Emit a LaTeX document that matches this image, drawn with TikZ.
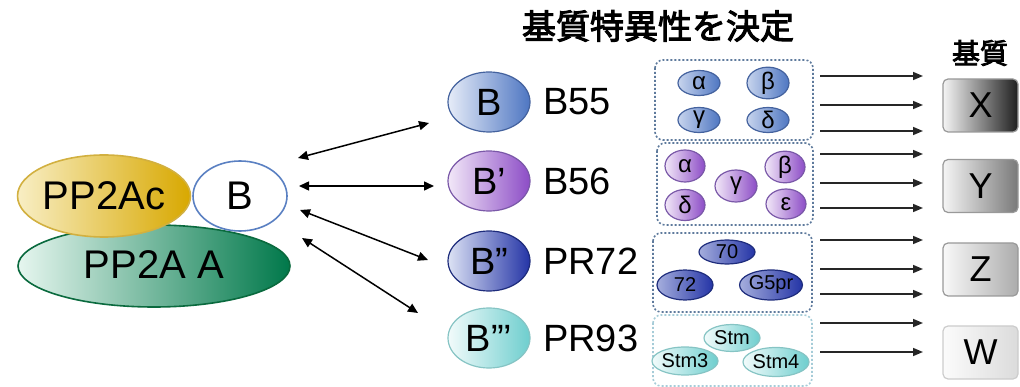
\documentclass[tikz,border=0pt]{standalone}
\usepackage{fontspec}
\setmainfont{Liberation Sans}
\newfontfamily\cjk{Noto Sans CJK JP}[FakeBold=3]
\usetikzlibrary{arrows.meta,shapes.geometric}
\newcommand\setfs[1]{\fontsize{#1}{#1}\selectfont}

\definecolor{goldL}{HTML}{F8EEC4}
\definecolor{goldR}{HTML}{D8A800}
\definecolor{goldB}{HTML}{D2B040}
\definecolor{grnL}{HTML}{E6F6EF}
\definecolor{grnR}{HTML}{00784A}
\definecolor{grnB}{HTML}{0A6A3E}
\definecolor{bcirc}{HTML}{5A80C2}
\definecolor{bluL}{HTML}{E6ECF8}
\definecolor{bluR}{HTML}{4E76C2}
\definecolor{bluB}{HTML}{44629E}
\definecolor{purL}{HTML}{F2E8F8}
\definecolor{purR}{HTML}{8C4CC6}
\definecolor{purB}{HTML}{7A58A8}
\definecolor{indL}{HTML}{DCE2F4}
\definecolor{indR}{HTML}{2434A6}
\definecolor{indB}{HTML}{1E2C7C}
\definecolor{tealL}{HTML}{F2FBFB}
\definecolor{tealR}{HTML}{6ECECE}
\definecolor{tealB}{HTML}{86C4C4}
\definecolor{dotB}{HTML}{5E7A9C}
\definecolor{dotT}{HTML}{A6CCD8}

\begin{document}
\begin{tikzpicture}[x=1pt,y=-1pt,
  big/.style={ellipse, inner sep=0pt, line width=1.6pt, font=\setfs{40}},
  sub/.style={ellipse, inner sep=0pt, line width=1.2pt, minimum width=82pt, minimum height=60pt, font=\setfs{38}},
  lbl/.style={anchor=west, inner sep=0pt, font=\setfs{38}},
  iso/.style={ellipse, inner sep=0pt, line width=1.2pt, minimum width=42pt, minimum height=25pt, font=\setfs{24}},
  isob/.style={ellipse, inner sep=0pt, line width=1.2pt, minimum width=56pt, minimum height=30pt, font=\setfs{20}},
  grpbox/.style={draw=dotB, line width=1.6pt, dash pattern=on 2pt off 2pt, rounded corners=8pt},
  subst/.style={rectangle, rounded corners=5pt, draw=gray!80, line width=1.2pt, minimum width=75pt, minimum height=53pt, inner sep=0pt, font=\setfs{36}},
  dbl/.style={{Triangle[length=10pt,width=9pt]}-{Triangle[length=10pt,width=9pt]}, line width=1.5pt, black},
  arr/.style={-{Triangle[length=10pt,width=8pt]}, line width=1.6pt, black!85}]
\useasboundingbox (0,0) rectangle (1020,387);

% headings
\node[font=\cjk\setfs{34}] (title) at (658,26) {基質特異性を決定};
\node[font=\cjk\setfs{28}] (subhead) at (980,53) {基質};

% holoenzyme
\node[big, shade, left color=grnL, right color=grnR, draw=grnB, minimum width=272pt, minimum height=82pt] (pa) at (154,266) {};
\node[font=\setfs{40}] at (154,265) {PP2A A};
\node[big, shade, left color=goldL, right color=goldR, draw=goldB, minimum width=172pt, minimum height=82pt] (pc) at (104,196) {PP2Ac};
\node[big, fill=white, draw=bcirc, minimum width=94pt, minimum height=70pt] (bc) at (240,196) {B};

% regulatory subunit families
\node[sub, shade, left color=bluL, right color=bluR, draw=bluB] (b1) at (489,102) {B};
\node[sub, shade, left color=purL, right color=purR, draw=purB] (b2) at (489,181) {B’};
\node[sub, shade, left color=indL, right color=indR, draw=indB] (b3) at (489,261) {B”};
\node[sub, shade, left color=tealL, right color=tealR, draw=tealB] (b4) at (489,338) {B”’};
\node[lbl] (l1) at (543,102) {B55};
\node[lbl] (l2) at (543,181) {B56};
\node[lbl] (l3) at (543,261) {PR72};
\node[lbl] (l4) at (543,338) {PR93};

% binding arrows
\coordinate (c1) at (298,158); \coordinate (d1) at (429,123);
\coordinate (c2) at (299,186); \coordinate (d2) at (434,186);
\coordinate (c3) at (300,210); \coordinate (d3) at (428,260);
\coordinate (c4) at (302,238); \coordinate (d4) at (418,313);
\draw[dbl] (c1) -- (d1);
\draw[dbl] (c2) -- (d2);
\draw[dbl] (c3) -- (d3);
\draw[dbl] (c4) -- (d4);

% isoform groups
\draw[grpbox] (655,60) rectangle (813,140);
\draw[grpbox] (657,143) rectangle (813,225);
\draw[grpbox] (653,233) rectangle (812,312);
\draw[grpbox, draw=dotT] (653,315) rectangle (812,386);

\node[iso, shade, left color=bluL!80!bluR, right color=bluR, draw=bluB] (i1a) at (699,83) {α};
\node[iso, shade, left color=bluL!80!bluR, right color=bluR, draw=bluB] (i1b) at (768,83) {β};
\node[iso, shade, left color=bluL!80!bluR, right color=bluR, draw=bluB] (i1c) at (699,120) {γ};
\node[iso, shade, left color=bluL!80!bluR, right color=bluR, draw=bluB] (i1d) at (768,120) {δ};

\node[iso, minimum width=40pt, minimum height=32pt, shade, left color=purL, right color=purR, draw=purB] (i2a) at (685,166) {α};
\node[iso, minimum width=40pt, minimum height=31pt, shade, left color=purL, right color=purR, draw=purB] (i2d) at (685,205) {δ};
\node[iso, minimum width=42pt, minimum height=32pt, shade, left color=purL, right color=purR, draw=purB] (i2c) at (736,186) {γ};
\node[iso, minimum width=40pt, minimum height=31pt, shade, left color=purL, right color=purR, draw=purB] (i2b) at (785,167) {β};
\node[iso, minimum width=40pt, minimum height=30pt, shade, left color=purL, right color=purR, draw=purB] (i2e) at (786,204) {ε};

\node[isob, minimum height=24pt, shade, left color=indL!70!indR, right color=indR, draw=indB] (i3a) at (727,252) {70};
\node[isob, shade, left color=indL!70!indR, right color=indR, draw=indB] (i3b) at (685,285) {72};
\node[isob, minimum width=58pt, shade, left color=indL!70!indR, right color=indR, draw=indB] (i3c) at (771,285) {G5pr};

\node[isob, minimum height=27pt, shade, left color=tealL, right color=tealR, draw=tealB] (i4a) at (732,338) {Stm};
\node[isob, minimum width=60pt, minimum height=28pt, shade, left color=tealL, right color=tealR, draw=tealB] (i4b) at (685,361) {Stm3};
\node[isob, minimum width=58pt, minimum height=29pt, shade, left color=tealL, right color=tealR, draw=tealB] (i4c) at (776,362) {Stm4};

% substrate arrows
\foreach \yy [count=\i] in {76,105,131,154,183,208,240,269,294,323,352} {
  \coordinate (s\i) at (820,\yy);
  \coordinate (t\i) at (923,\yy);
  \draw[arr] (s\i) -- (t\i);
}

% substrates
\node[subst, shade, left color=gray!8, right color=black!88] (sx) at (980.5,105.5) {X};
\node[subst, shade, left color=gray!8, right color=gray!95!black] (sy) at (980.5,186) {Y};
\node[subst, shade, left color=gray!5, right color=gray!65] (sz) at (980.5,269.5) {Z};
\node[subst, shade, left color=gray!3, right color=gray!28, draw=gray!40] (sw) at (980.5,352.5) {W};
\end{tikzpicture}
\end{document}
